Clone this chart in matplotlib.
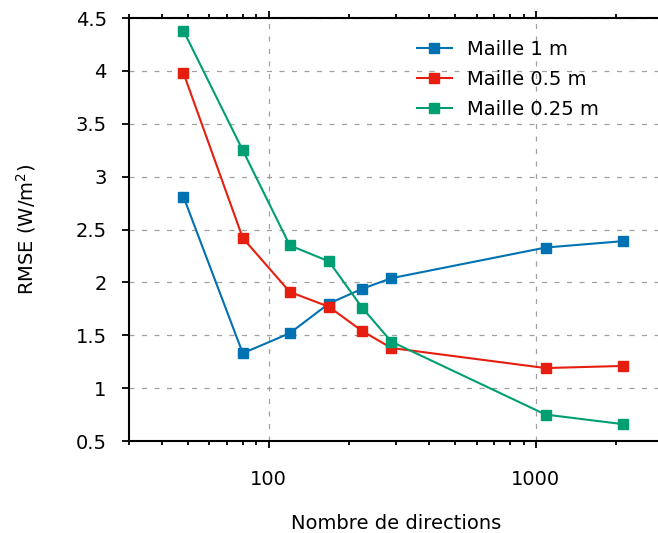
import matplotlib
matplotlib.use("Agg")
import matplotlib.pyplot as plt
from matplotlib.ticker import FixedLocator, LogLocator, FuncFormatter, NullFormatter

directions = [48, 80, 120, 168, 224, 288, 1088, 2112]
rmse_1m = [2.81, 1.33, 1.52, 1.80, 1.94, 2.04, 2.33, 2.39]
rmse_05m = [3.98, 2.42, 1.91, 1.77, 1.54, 1.38, 1.19, 1.21]
rmse_025m = [4.38, 3.25, 2.35, 2.20, 1.76, 1.44, 0.75, 0.66]
labels = ["Maille 1 m", "Maille 0.5 m", "Maille 0.25 m"]
colors = ["#0072b2", "#e51e10", "#009e73"]
yticks = [0.5, 1, 1.5, 2, 2.5, 3, 3.5, 4, 4.5]


def main():
    plt.rcParams['font.family'] = ['DejaVu Sans']
    fig = plt.figure(figsize=(6.58, 5.33), dpi=100)
    ax = fig.add_axes([0.196, 0.1726, 0.812, 0.7934])

    for values, label, color in zip([rmse_1m, rmse_05m, rmse_025m], labels, colors):
        ax.plot(directions, values, '-s', color=color, label=label,
                lw=1.5, markersize=7)

    ax.set_xscale('log')
    ax.set_xlim(30, 3000)
    ax.set_ylim(0.5, 4.5)
    ax.xaxis.set_major_locator(FixedLocator([100, 1000]))
    ax.xaxis.set_minor_locator(LogLocator(base=10, subs=range(2, 10)))
    ax.xaxis.set_major_formatter(FuncFormatter(lambda v, p: "%d" % v))
    ax.xaxis.set_minor_formatter(NullFormatter())
    ax.set_yticks(yticks)
    ax.yaxis.set_major_formatter(FuncFormatter(lambda v, p: "%g" % v))

    ax.grid(True, which='major', color='#a0a0a0', linestyle=(0, (4, 6)), lw=0.9)
    for side in ['left', 'bottom', 'top']:
        ax.spines[side].set_linewidth(1.5)
    ax.spines['right'].set_visible(False)
    ax.tick_params(which='both', direction='out', top=True, right=False,
                   width=1.3, labelsize=14)
    ax.tick_params(which='major', length=5)
    ax.tick_params(which='minor', length=3)
    ax.tick_params(axis='x', which='major', pad=16)
    ax.tick_params(axis='y', which='major', pad=11)

    ax.set_xlabel("Nombre de directions", fontsize=14)
    ax.xaxis.set_label_coords(0.5, -0.172)
    ax.set_ylabel("RMSE (W/m$^2$)", fontsize=14)
    ax.yaxis.set_label_coords(-0.170, 0.5)

    ax.legend(loc='upper left', bbox_to_anchor=(0.539, 0.948), frameon=False,
              fontsize=14, handlelength=1.8, handletextpad=0.77,
              labelspacing=0.55, borderpad=0, borderaxespad=0)

    fig.savefig('out.png', dpi=100)


if __name__ == '__main__':
    main()
